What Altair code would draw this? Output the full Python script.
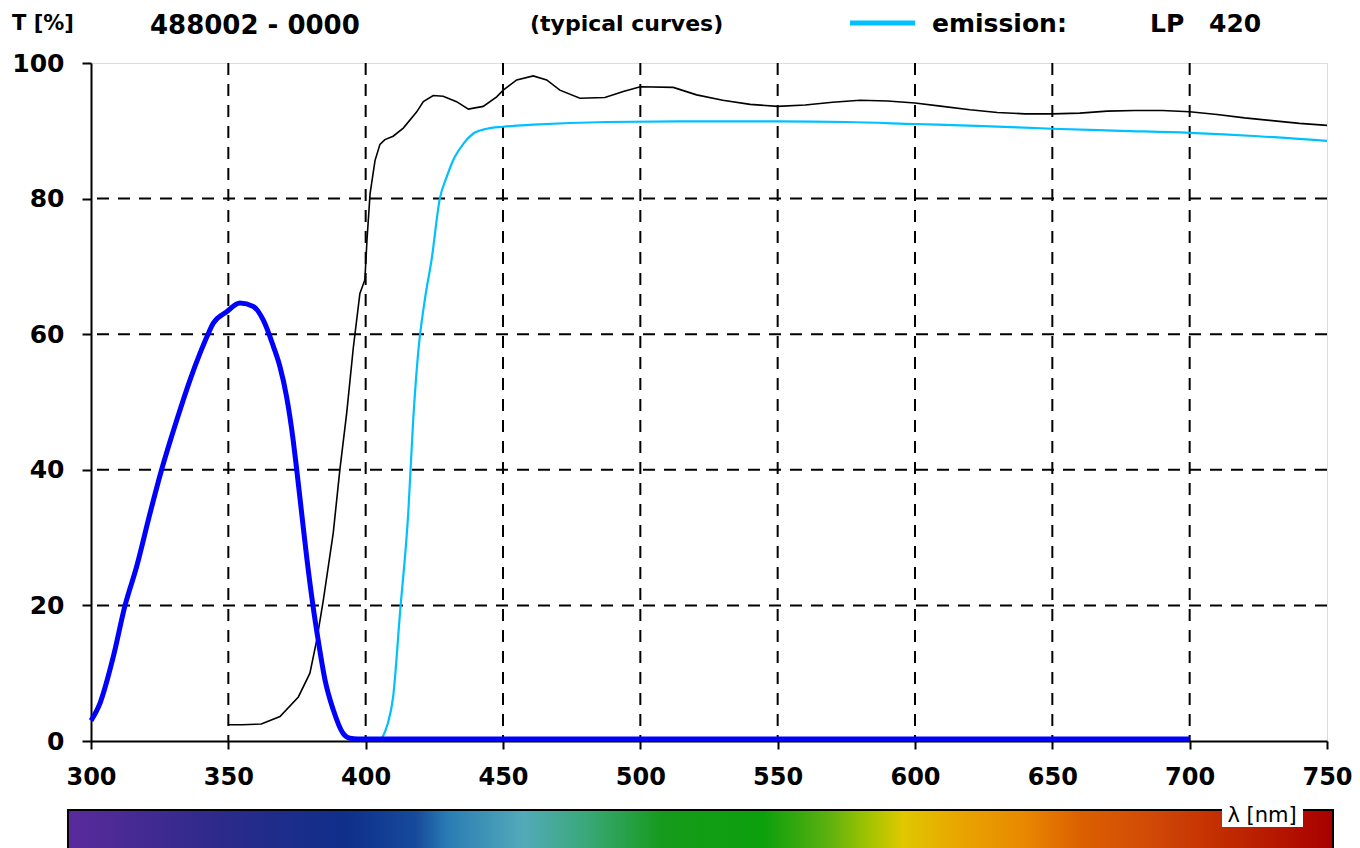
import altair as alt
import pandas as pd

# ---- data ----
blue_x = [300, 303.3, 308.1, 312.4, 316.6, 321.5, 325.7, 331.2, 336, 339.7, 342.6, 344.5,
          349.4, 354.2, 359.1, 362.7, 366.4, 368.8, 371.2, 373.6, 374.9, 376.7, 378.5,
          380.8, 382.7, 385.2, 388.2, 391.8, 394.3, 397, 400, 450, 500, 550, 600, 650, 700]
blue_y = [3, 5.6, 12.4, 20, 25.7, 33.6, 40, 47.3, 53.2, 57.2, 60, 61.6,
          63.3, 64.6, 64.1, 62.1, 58.2, 55.2, 50.8, 44.4, 40, 33.6, 27.2,
          20, 14.9, 9, 4.6, 1.1, 0.4, 0.3, 0.3, 0.3, 0.3, 0.3, 0.3, 0.3, 0.3]

black_x = [350, 355, 362, 368.8, 375.5, 379.7, 382.2, 384.6, 388.2, 390.6, 393.1, 395.5,
           397.9, 399.7, 400.5, 401.6, 403.4, 405.2, 407, 410, 413.7, 418.6, 421, 424.6,
           428.2, 433.1, 437.4, 442.8, 447.7, 450.1, 455, 461, 465.9, 470.7, 478, 487.1,
           493.8, 500, 512, 520.5, 530, 540, 550, 560, 570, 580, 590, 600, 610, 620, 630,
           640, 650, 660, 670, 680, 690, 700, 710, 720, 730, 740, 750]
black_y = [2.4, 2.4, 2.5, 3.6, 6.5, 10, 14.9, 20.8, 30.7, 40, 48.4, 58,
           66, 68, 74, 80.7, 85.6, 88, 88.7, 89.2, 90.4, 92.8, 94.3, 95.2,
           95.1, 94.3, 93.2, 93.6, 95, 96, 97.5, 98.1, 97.5, 96, 94.8, 94.9,
           95.8, 96.5, 96.4, 95.3, 94.5, 93.9, 93.6, 93.8, 94.2, 94.5, 94.4, 94.1, 93.6, 93.1, 92.7,
           92.5, 92.5, 92.6, 92.9, 93.0, 93.0, 92.8, 92.4, 91.9, 91.5, 91.1, 90.8]

cyan_x = [405.8, 408, 410, 412.5, 415.5, 417.3, 419.1, 421.5, 424, 427, 429.5, 431.9,
          435.6, 439.2, 444, 450, 461, 487.7, 520, 550, 575, 600, 625, 650, 675, 700, 725, 750]
cyan_y = [0.3, 2.5, 6.5, 18.9, 33.6, 47.3, 57.2, 65, 71, 80, 83.2, 85.7,
          88.1, 89.6, 90.3, 90.6, 90.9, 91.3, 91.4, 91.4, 91.3, 91.0, 90.7, 90.3, 90.0, 89.7, 89.2, 88.5]

x_ticks = [300, 350, 400, 450, 500, 550, 600, 650, 700, 750]
y_ticks = [0, 20, 40, 60, 80, 100]
grid_x = [350, 400, 450, 500, 550, 600, 650, 700]
grid_y = [20, 40, 60, 80]

spectrum_offsets = [0.0, 0.12, 0.22, 0.275, 0.30, 0.36, 0.41, 0.47, 0.55, 0.60, 0.633,
                    0.66, 0.70, 0.756, 0.80, 0.86, 0.92, 1.0]
spectrum_colors = ["#5b2a9c", "#2c2a8a", "#0f2f8a", "#164a9c", "#2a7cb4", "#52aab8",
                   "#3aa878", "#169a1c", "#0ca00c", "#5ab010", "#a0c400", "#e0c800",
                   "#e8a800", "#e88800", "#dc6000", "#d04808", "#c02800", "#a80000"]

FONT = "DejaVu Sans"

xscale = alt.Scale(domain=[300, 750], nice=False, zero=False)
yscale = alt.Scale(domain=[0, 100], nice=False, zero=False)

xaxis = alt.Axis(values=x_ticks, title=None, grid=False, labelFont=FONT, labelFontSize=24,
                 labelFontWeight="bold", labelColor="black", tickSize=8, tickWidth=2,
                 tickColor="black", domainColor="black", domainWidth=2, labelPadding=16,
                 labelFlush=False, labelOverlap=False)
yaxis = alt.Axis(values=y_ticks, title=None, grid=False, labelFont=FONT, labelFontSize=25,
                 labelFontWeight="bold", labelColor="black", tickSize=9, tickWidth=2,
                 tickColor="black", domainColor="black", domainWidth=2, labelPadding=18,
                 labelFlush=False, labelOverlap=False)

X = alt.X("wl:Q", scale=xscale, axis=xaxis)
Y = alt.Y("t:Q", scale=yscale, axis=yaxis)

one = pd.DataFrame({"k": [0]})

gx = alt.Chart(pd.DataFrame({"wl": grid_x})).mark_rule(
    color="black", strokeWidth=2, strokeDash=[12, 9]).encode(x=X)
gy = alt.Chart(pd.DataFrame({"t": grid_y})).mark_rule(
    color="black", strokeWidth=2, strokeDash=[12, 9]).encode(y=Y)

black = alt.Chart(pd.DataFrame({"wl": black_x, "t": black_y})).mark_line(
    color="black", strokeWidth=1.6).encode(x=X, y=Y)
cyan = alt.Chart(pd.DataFrame({"wl": cyan_x, "t": cyan_y})).mark_line(
    color="#00c0ff", strokeWidth=2.2, interpolate="monotone").encode(x=X, y=Y)
blue = alt.Chart(pd.DataFrame({"wl": blue_x, "t": blue_y})).mark_line(
    color="#0000ff", strokeWidth=5, interpolate="monotone").encode(x=X, y=Y)


def label(txt, x, y, size, weight="bold", align="left"):
    return alt.Chart(one).mark_text(
        text=txt, align=align, baseline="alphabetic", fontSize=size,
        fontWeight=weight, font=FONT, color="black").encode(
        x=alt.value(x), y=alt.value(y))


gradient = alt.Gradient(
    gradient="linear",
    stops=[alt.GradientStop(offset=o, color=c) for o, c in zip(spectrum_offsets, spectrum_colors)],
    x1=0, x2=1, y1=0, y2=0)

spectrum = alt.Chart(one).mark_rect(fill=gradient, stroke="black", strokeWidth=2).encode(
    x=alt.value(-23), x2=alt.value(1242), y=alt.value(747), y2=alt.value(790))
lam_box = alt.Chart(one).mark_rect(fill="white").encode(
    x=alt.value(1131), x2=alt.value(1212), y=alt.value(737), y2=alt.value(764))

legend_line = alt.Chart(one).mark_rule(color="#00c0ff", strokeWidth=5).encode(
    x=alt.value(759), x2=alt.value(824), y=alt.value(-40))

chart = alt.layer(
    gx, gy, black, cyan, blue,
    spectrum, lam_box,
    label("λ [nm]", 1171, 759, 21, weight="normal", align="center"),
    label("T [%]", -79, -33, 21),
    label("488002 - 0000", 59, -29, 26),
    label("(typical curves)", 439, -32, 22),
    legend_line,
    label("emission:", 841, -31, 25),
    label("LP", 1059, -31, 25),
    label("420", 1118, -31, 25),
).properties(
    width=1236, height=678,
    autosize=alt.AutoSizeParams(type="none"),
    padding={"left": 83, "top": 55, "right": 25, "bottom": 107},
).configure_view(
    stroke="#9a9a9a", strokeWidth=2
).configure(background="white")

chart.save("out.html", embed_options={"renderer": "svg", "actions": False})
